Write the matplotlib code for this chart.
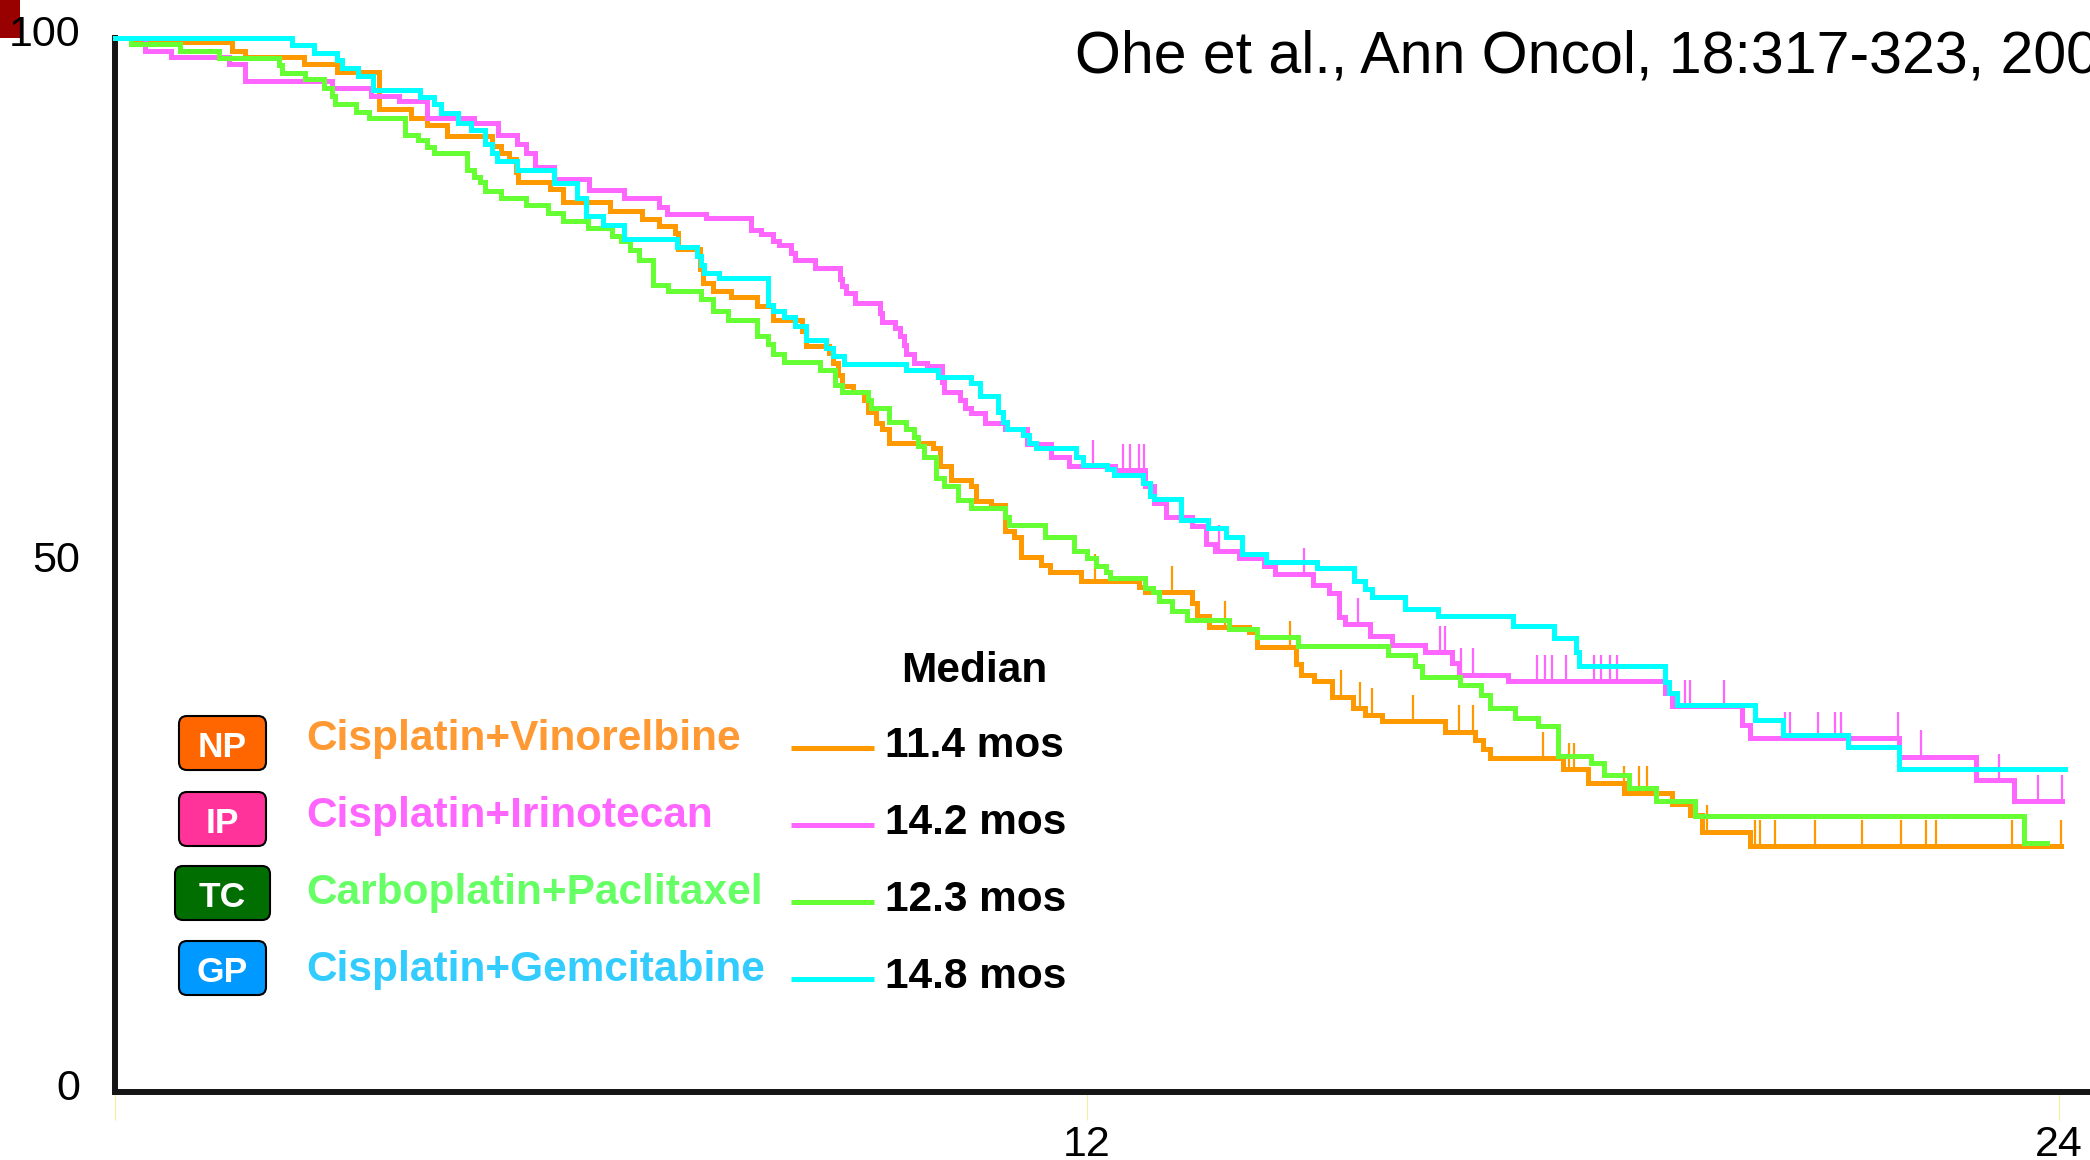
import matplotlib.pyplot as plt
import numpy as np
from matplotlib.patches import FancyBboxPatch, Rectangle
from matplotlib.transforms import ScaledTranslation

plt.rcParams['font.family'] = ['Liberation Sans', 'DejaVu Sans']

W, H = 2090, 1160  # output size in pixels (dpi 100)

# Overall survival, step values: month of each drop and survival (%) after it
np_time = [0, 0.25, 1.45, 1.60, 2.33, 2.74, 3.26, 3.66, 3.85, 4.10, 4.65, 4.76, 4.87,
           4.95, 4.98, 5.37, 5.53, 6.11, 6.50, 6.72, 6.91, 6.95, 7.22, 7.26, 7.38,
           7.60, 7.93, 8.12, 8.48, 8.53, 8.81, 8.86, 8.92, 8.98, 9.11, 9.25, 9.30,
           9.39, 9.47, 9.55, 10.10, 10.19, 10.32, 10.57, 10.63, 10.82, 10.99, 11.10,
           11.18, 11.43, 11.54, 11.92, 12.64, 12.72, 13.30, 13.36, 13.51, 14.00,
           14.10, 14.58, 14.64, 14.80, 15.03, 15.28, 15.43, 15.64, 16.42, 16.79,
           16.89, 16.97, 17.88, 18.19, 18.63, 19.22, 19.44, 19.59, 20.18]
np_surv = [100, 99.6, 98.8, 98.2, 97.5, 96.8, 93.3, 92.4, 91.7, 90.7, 89.8, 89.1, 88.5,
           87.3, 86.3, 85.7, 84.4, 83.6, 82.8, 82.2, 81.5, 80.0, 78.1, 76.8, 76.0,
           75.4, 74.6, 73.2, 72.2, 70.8, 70.1, 69.2, 68.0, 67.0, 66.4, 65.7, 64.5,
           63.5, 62.9, 61.6, 61.1, 59.4, 58.1, 57.5, 56.1, 55.7, 53.2, 52.7,
           50.8, 50.0, 49.3, 48.5, 47.9, 47.4, 46.4, 45.2, 44.1, 43.6,
           42.2, 40.6, 39.6, 39.0, 37.5, 36.4, 35.8, 35.2, 34.2, 33.4,
           32.5, 31.7, 30.6, 29.3, 28.4, 27.3, 26.3, 24.7, 23.3]
np_end = 24.02
np_censor = [12.10, 13.05, 13.70, 14.51, 15.13, 15.37, 15.52, 16.02, 16.59, 16.76,
             17.63, 17.95, 18.01, 18.63, 18.82, 18.91, 19.66, 20.25, 20.31, 20.49,
             20.99, 21.57, 22.05, 22.36, 22.48, 23.42, 24.02]

ip_time = [0, 0.37, 0.69, 1.41, 1.61, 2.68, 3.16, 3.50, 3.85, 4.43, 4.73, 4.96, 5.07,
           5.18, 5.42, 5.85, 6.28, 6.72, 6.81, 7.30, 7.85, 7.98, 8.12, 8.20, 8.34,
           8.40, 8.64, 8.95, 8.97, 9.03, 9.14, 9.44, 9.47, 9.63, 9.69, 9.74, 9.77,
           9.86, 10.02, 10.21, 10.24, 10.43, 10.49, 10.57, 10.74, 10.99, 11.26,
           11.56, 11.78, 12.34, 12.72, 12.83, 12.97, 13.30, 13.47, 13.58, 13.88,
           14.18, 14.32, 14.79, 14.99, 15.11, 15.18, 15.49, 15.77, 16.17, 16.51,
           16.59, 17.20, 19.13, 19.22, 20.09, 20.18, 22.02, 22.98, 23.45]
ip_surv = [100, 98.8, 98.2, 97.5, 95.9, 95.3, 94.5, 94.0, 92.4, 91.9, 90.8, 89.9, 89.1,
           87.8, 86.6, 85.6, 84.8, 84.0, 83.3, 82.9, 81.8, 81.4, 80.7, 80.4, 79.6,
           78.9, 78.2, 77.1, 76.5, 75.8, 74.9, 73.9, 73.1, 72.5, 71.7, 70.9, 70.0,
           69.2, 68.9, 67.4, 66.4, 65.7, 64.9, 64.4, 63.5, 62.9, 61.5,
           60.2, 59.4, 59.0, 57.5, 55.9, 54.6, 53.7, 52.0, 51.3, 50.7,
           49.9, 49.1, 48.1, 47.3, 45.1, 44.4, 43.3, 42.4, 41.7, 40.7,
           39.6, 39.0, 37.9, 36.6, 34.8, 33.6, 31.8, 29.6, 27.6]
ip_end = 24.04
ip_censor = [12.07, 12.45, 12.53, 12.64, 12.70, 13.63, 14.68, 15.35, 16.36, 16.42,
             16.62, 16.76, 17.55, 17.65, 17.74, 17.91, 18.26, 18.35, 18.46, 18.54,
             19.38, 19.44, 19.87, 20.62, 20.68, 21.02, 21.24, 21.31, 22.01, 22.30,
             23.26, 23.74, 24.04]

tc_time = [0, 0.20, 0.80, 1.28, 2.02, 2.06, 2.34, 2.58, 2.68, 2.72, 2.97, 3.14, 3.58,
           3.74, 3.85, 3.94, 4.35, 4.43, 4.51, 4.57, 4.76, 5.07, 5.34, 5.53, 5.84,
           6.14, 6.25, 6.36, 6.47, 6.64, 6.83, 7.24, 7.38, 7.57, 7.93, 8.06, 8.12,
           8.26, 8.70, 8.89, 8.97, 9.30, 9.33, 9.55, 9.77, 9.86, 9.91, 9.99, 10.13,
           10.24, 10.41, 10.57, 10.99, 11.04, 11.48, 11.84, 12.00, 12.11, 12.23,
           12.28, 12.72, 12.81, 12.89, 13.05, 13.24, 13.75, 14.10, 14.60, 15.71,
           16.05, 16.14, 16.61, 16.86, 16.97, 17.29, 17.57, 17.82, 18.22, 18.38,
           18.69, 19.03, 19.50, 23.57]
tc_surv = [100, 99.4, 98.8, 98.1, 97.4, 96.7, 96.1, 95.3, 94.5, 93.7, 93.0, 92.4, 90.8,
           90.3, 89.7, 89.1, 87.5, 86.8, 86.3, 85.5, 84.8, 84.2, 83.4, 82.6, 82.0,
           81.2, 80.7, 79.9, 78.9, 76.6, 76.0, 75.2, 74.1, 73.2, 71.7, 71.0, 70.0,
           69.3, 68.5, 67.1, 66.4, 65.7, 64.9, 63.6, 62.9, 62.1, 61.3, 60.2, 58.3,
           57.5, 56.2, 55.4, 54.6, 53.8, 52.7, 51.3, 50.7, 49.9, 49.3,
           48.8, 47.8, 47.4, 46.6, 45.6, 44.8, 43.9, 43.2, 42.3, 41.5,
           40.4, 39.4, 38.6, 37.7, 36.4, 35.5, 34.7, 31.9, 31.2, 30.1,
           28.8, 27.6, 26.2, 23.6]
tc_end = 23.85
tc_censor = []

gp_time = [0, 2.18, 2.46, 2.74, 2.80, 3.00, 3.19, 3.77, 3.94, 4.02, 4.24, 4.40, 4.57,
           4.65, 4.71, 4.96, 5.42, 5.70, 5.81, 6.03, 6.28, 6.94, 7.19, 7.23, 7.27,
           7.46, 8.06, 8.12, 8.26, 8.40, 8.53, 8.78, 8.86, 9.00, 9.77, 10.16, 10.57,
           10.68, 10.90, 10.96, 11.01, 11.21, 11.29, 11.37, 11.87, 11.95, 12.25,
           12.33, 12.69, 12.78, 12.83, 13.16, 13.49, 13.71, 13.91, 14.21, 14.84,
           15.30, 15.43, 15.52, 15.92, 16.33, 17.26, 17.76, 18.04, 18.07, 19.13,
           19.19, 19.28, 20.25, 20.59, 21.40, 22.02]
gp_surv = [100, 99.3, 98.6, 97.9, 97.2, 96.4, 95.1, 94.4, 93.7, 92.9, 91.9, 91.3, 89.9,
           89.1, 88.3, 87.5, 86.2, 84.8, 83.1, 82.3, 80.9, 80.2, 79.3, 78.5, 77.7,
           77.2, 74.7, 74.1, 73.5, 72.7, 71.3, 70.6, 69.8, 69.1, 68.5, 67.8, 67.3,
           66.0, 64.5, 63.6, 62.9, 62.3, 61.6, 61.1, 60.2, 59.5, 59.1,
           58.5, 57.8, 56.5, 56.3, 54.3, 53.5, 52.7, 51.0, 50.3, 49.7,
           48.5, 47.7, 47.0, 45.8, 45.2, 44.2, 43.1, 41.7, 40.4, 38.9,
           37.9, 36.7, 35.3, 33.9, 32.7, 30.6]
gp_end = 24.07
gp_censor = []

codes = ['NP', 'IP', 'TC', 'GP']
regimens = ['Cisplatin+Vinorelbine', 'Cisplatin+Irinotecan',
            'Carboplatin+Paclitaxel', 'Cisplatin+Gemcitabine']
medians = ['11.4 mos', '14.2 mos', '12.3 mos', '14.8 mos']
curve_colors = ['#ff9900', '#ff66ff', '#66ff33', '#00ffff']
text_colors = ['#ff9933', '#ff66ff', '#66ff66', '#33ccff']
box_colors = ['#ff6600', '#ff3399', '#006e00', '#0099ff']

arms = [(np_time, np_surv, np_end, np_censor),
        (ip_time, ip_surv, ip_end, ip_censor),
        (tc_time, tc_surv, tc_end, tc_censor),
        (gp_time, gp_surv, gp_end, gp_censor)]

fig = plt.figure(figsize=(W / 100, H / 100), dpi=100)

# dark red corner block behind the top tick label
fig.add_artist(Rectangle((0, 1 - 38 / H), 20 / W, 38 / H, transform=fig.transFigure,
                         facecolor='#990000', edgecolor='none', zorder=-1))

px_per_month = 81
x0, y0, y100 = 115, 1092, 38
ax = fig.add_axes([x0 / W, (H - y0) / H, (W - x0) / W, (y0 - y100) / H])
ax.set_facecolor('none')
ax.set_xlim(0, (W - x0) / px_per_month)
ax.set_ylim(0, 100)

for (t, s, t_end, cens), col in zip(arms, curve_colors):
    ax.step(t + [t_end], s + [s[-1]], where='post', color=col, lw=3.6,
            clip_on=False, zorder=3, solid_joinstyle='miter')
    if cens:
        idx = np.searchsorted(t, cens, side='right') - 1
        y = np.asarray(s)[idx]
        ax.vlines(cens, y, y + 2.5, color=col, lw=1.6, clip_on=False, zorder=3)

for side in ['top', 'right']:
    ax.spines[side].set_visible(False)
for side in ['left', 'bottom']:
    ax.spines[side].set_linewidth(4.3)
    ax.spines[side].set_color('#151515')

ax.set_yticks([0, 50, 100])
ax.set_yticklabels(['0', '50', '100'])
ax.tick_params(axis='y', length=0, pad=25, labelsize=31)
# lift the y labels a little above their gridline level
lift = ScaledTranslation(0, 8 / 100, fig.dpi_scale_trans)
for lbl in ax.get_yticklabels():
    lbl.set_transform(lbl.get_transform() + lift)
ax.set_xticks([0, 12, 24])
ax.set_xticklabels(['', '12', '24'])
ax.tick_params(axis='x', length=20, width=0.8, color='#f0f0a0', pad=4, labelsize=31)

# overlay in pixel units for the citation and the legend block
ov = fig.add_axes([0, 0, 1, 1], zorder=5)
ov.set_xlim(0, W)
ov.set_ylim(H, 0)
ov.axis('off')

ov.text(1075, 72, 'Ohe et al., Ann Oncol, 18:317-323, 2007', fontsize=42.5,
        color='black', va='baseline', ha='left')

ov.text(901, 682, 'Median', fontsize=30.5, fontweight='bold', va='baseline')

box_tops = [716, 792, 866, 941]
for i in range(4):
    bx, bw = (175, 95) if codes[i] == 'TC' else (179, 87)
    top = box_tops[i]
    ov.add_patch(FancyBboxPatch((bx, top), bw, 54,
                                boxstyle='round,pad=0,rounding_size=8',
                                facecolor=box_colors[i], edgecolor='black', lw=1.5))
    ov.text(bx + bw / 2, top + 41, codes[i], fontsize=25.5, fontweight='bold',
            color='white', ha='center', va='baseline')
    ov.text(306, 750 + 77 * i, regimens[i], fontsize=30.5, fontweight='bold',
            color=text_colors[i], va='baseline')
    ov.plot([791, 874], [748 + 77 * i] * 2, color=curve_colors[i], lw=3.6,
            solid_capstyle='butt')
    ov.text(885, 757 + 77 * i, medians[i], fontsize=30.5, fontweight='bold',
            color='black', va='baseline')

fig.savefig('out.png', dpi=100)
